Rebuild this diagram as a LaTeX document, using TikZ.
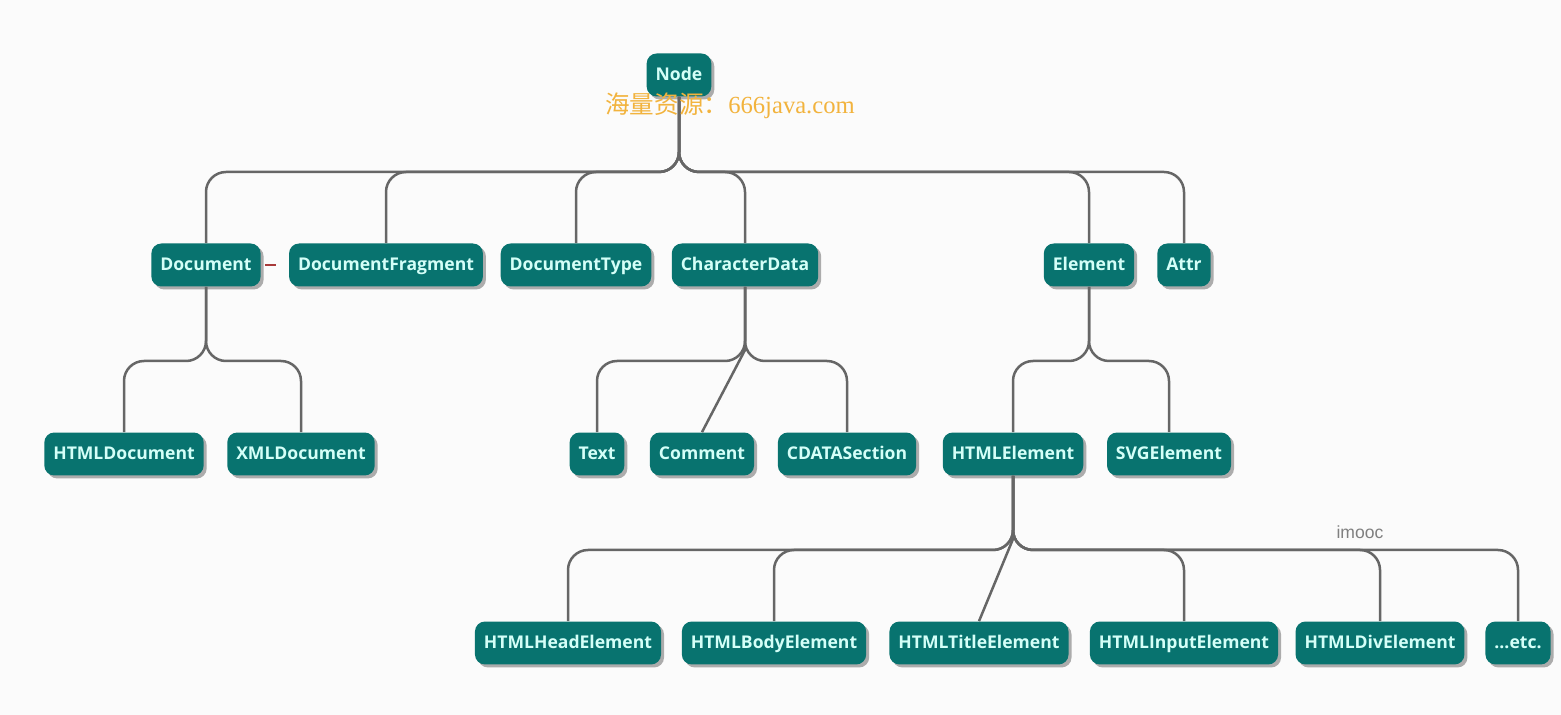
\documentclass[tikz,border=0pt]{standalone}
\usepackage{fontspec}
\setmainfont{Open Sans}
\newfontfamily\cjkfont{Noto Sans CJK SC}
\newfontfamily\markserif{Liberation Serif}
\newfontfamily\marksans{Liberation Sans}
\usetikzlibrary{shadows,calc}
\definecolor{boxteal}{HTML}{08736F}
\definecolor{boxtext}{HTML}{D4FFF8}
\definecolor{linkgrey}{HTML}{666666}
\definecolor{markorange}{HTML}{F2B33D}
\definecolor{dashred}{HTML}{A83A3A}
\definecolor{paper}{HTML}{FBFBFB}

\begin{document}
\begin{tikzpicture}[x=0.02cm, y=-0.02cm,
    box/.style={rectangle, rounded corners=0.2cm, fill=boxteal, text=boxtext,
        font=\bfseries\fontsize{10}{12}\selectfont, minimum height=0.86cm, inner xsep=0.18cm,
        text height=7.4pt, text depth=0.6pt,
        drop shadow={shadow xshift=0.06cm, shadow yshift=-0.06cm, opacity=0.45, fill=black!70}},
    link/.style={draw=linkgrey, line width=0.05cm, rounded corners=0.4cm}]

    % background and page size
    \fill[paper] (0,0) rectangle (1561,715);

    % bus levels
    \coordinate (busA) at (0,172);
    \coordinate (busB) at (0,361);
    \coordinate (busC) at (0,550);

    \node (node) [box] at (679,75) {Node};

    \node (doc) [box] at (206,265) {Document};
    \node (frag) [box] at (386,265) {DocumentFragment};
    \node (doctype) [box] at (576,265) {DocumentType};
    \node (chardata) [box] at (745,265) {CharacterData};
    \node (elem) [box] at (1089,265) {Element};
    \node (attr) [box] at (1184,265) {Attr};

    \node (htmldoc) [box] at (124,454) {HTMLDocument};
    \node (xmldoc) [box] at (301,454) {XMLDocument};
    \node (text) [box] at (597,454) {Text};
    \node (comment) [box] at (702,454) {Comment};
    \node (cdata) [box] at (847,454) {CDATASection};
    \node (htmlelem) [box] at (1013,454) {HTMLElement};
    \node (svgelem) [box] at (1169,454) {SVGElement};

    \node (head) [box] at (568,643) {HTMLHeadElement};
    \node (body) [box] at (774,643) {HTMLBodyElement};
    \node (title) [box] at (979,643) {HTMLTitleElement};
    \node (input) [box] at (1184,643) {HTMLInputElement};
    \node (div) [box] at (1380,643) {HTMLDivElement};
    \node (etc) [box] at (1518,643) {...etc.};

    % connectors
    \foreach \child in {doc,frag,doctype,chardata,elem,attr}
        \draw [link] (node.south) |- (\child.north |- busA) -- (\child.north);
    \foreach \child in {htmldoc,xmldoc}
        \draw [link] (doc.south) |- (\child.north |- busB) -- (\child.north);
    \foreach \child in {text,cdata}
        \draw [link] (chardata.south) |- (\child.north |- busB) -- (\child.north);
    \foreach \child in {htmlelem,svgelem}
        \draw [link] (elem.south) |- (\child.north |- busB) -- (\child.north);
    \foreach \child in {head,body,input,div,etc}
        \draw [link] (htmlelem.south) |- (\child.north |- busC) -- (\child.north);
    \draw [link, sharp corners] (chardata.south) -- ($(chardata.south |- busB)+(0,-11)$) -- (comment.north);
    \draw [link, sharp corners] (htmlelem.south) -- ($(htmlelem.south |- busC)+(0,-11)$) -- (title.north);

    \draw [draw=dashred, line width=0.05cm, shorten <=0.08cm, shorten >=0.26cm] (doc.east) -- (frag.west);

    % marks
    \node (watermark) [anchor=west, inner sep=0pt, text=markorange] at (605,106)
        {\cjkfont\fontsize{14}{16}\selectfont 海量资源：\markserif 666java.com};
    \node (imooc) [text=black!50, font=\marksans\fontsize{10}{12}\selectfont] at (1360,532) {imooc};
\end{tikzpicture}
\end{document}
